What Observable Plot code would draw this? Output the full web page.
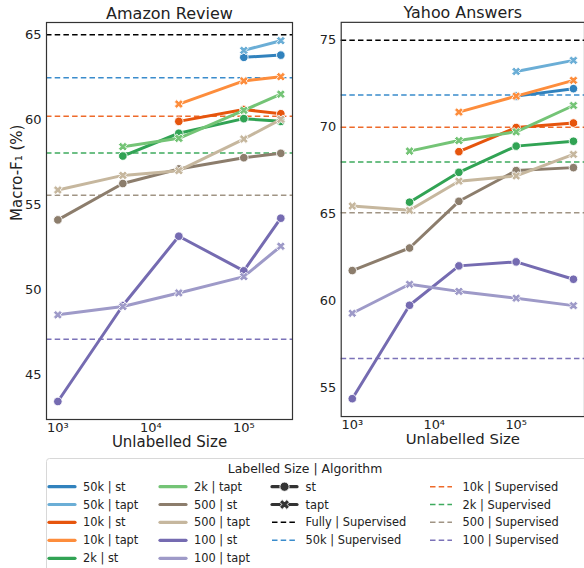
<!DOCTYPE html>
<html><head><meta charset="utf-8">
<script src="https://cdn.jsdelivr.net/npm/d3@7"></script>
<script src="https://cdn.jsdelivr.net/npm/@observablehq/plot@0.6"></script>
<style>
body{margin:0;background:#fff;font-family:"DejaVu Sans",sans-serif;}
#wrap{position:relative;width:584px;height:568px;overflow:hidden;background:#fff;}
#left{position:absolute;left:0;top:0;}
#right{position:absolute;left:300px;top:0;}
#legend{position:absolute;left:0;top:0;}
</style></head><body>
<div id="wrap"><div id="left"></div><div id="right"></div><svg id="legend" width="584" height="568"></svg></div>
<script>
// ---- data ----
const labelled = ["50k", "10k", "2k", "500", "100"];
const supLabels = ["Fully", "50k", "10k", "2k", "500", "100"];
const amazonX = [1000, 5000, 20000, 100000, 250000];
const yahooX = [1000, 5000, 20000, 100000, 500000];

const amazonSt = [
  [null, null, null, 63.67, 63.8],
  [null, null, 59.9, 60.6, 60.35],
  [null, 57.86, 59.2, 60.06, 59.9],
  [54.1, 56.24, 57.1, 57.76, 58.02],
  [43.41, 49.06, 53.14, 51.1, 54.2]
];
const amazonTapt = [
  [null, null, null, 64.08, 64.65],
  [null, null, 60.92, 62.28, 62.53],
  [null, 58.41, 58.9, 60.55, 61.5],
  [55.86, 56.72, 57.0, 58.86, 60.02],
  [48.51, 49.0, 49.8, 50.76, 52.55]
];
const amazonSup = [65.0, 62.47, 60.2, 58.04, 55.55, 47.08];

const yahooSt = [
  [null, null, null, 71.78, 72.21],
  [null, null, 68.58, 69.97, 70.23],
  [null, 65.67, 67.39, 68.9, 69.18],
  [61.73, 63.03, 65.72, 67.49, 67.66],
  [54.35, 59.73, 62.0, 62.23, 61.23]
];
const yahooTapt = [
  [null, null, null, 73.2, 73.84],
  [null, null, 70.86, 71.78, 72.69],
  [null, 68.61, 69.22, 69.72, 71.24],
  [65.45, 65.2, 66.88, 67.18, 68.42],
  [59.27, 60.94, 60.53, 60.14, 59.71]
];
const yahooSup = [75.0, 71.84, 69.98, 67.98, 65.06, 56.67];

const amazonTicks = [45, 50, 55, 60, 65];
const yahooTicks = [55, 60, 65, 70, 75];
const xTicks = [1000, 10000, 100000];

// ---- styles ----
const stColors = ["#3182bd", "#e6550d", "#31a354", "#8c7d6c", "#756bb1"];
const taptColors = ["#6baed6", "#fd8d3c", "#74c476", "#c6b79e", "#9e9ac8"];
const supColors = ["#000000", "#3a8ccc", "#ee6a2a", "#3eaa5e", "#a09484", "#7b72b8"];
const FONT = "DejaVu Sans";

// filled X marker
const XSym = {
  draw(ctx, size) {
    const s = Math.sqrt(size / Math.PI) * 1.15, w = s * 0.36;
    const pts = [[-w,-s],[w,-s],[w,-w],[s,-w],[s,w],[w,w],[w,s],[-w,s],[-w,w],[-s,w],[-s,-w],[-w,-w]]
      .map(([x, y]) => [(x - y) / Math.SQRT2, (x + y) / Math.SQRT2]);
    ctx.moveTo(pts[0][0], pts[0][1]);
    for (let i = 1; i < pts.length; i++) ctx.lineTo(pts[i][0], pts[i][1]);
    ctx.closePath();
  }
};

const sup = n => String(n).split("").map(c => "⁰¹²³⁴⁵⁶⁷⁸⁹"[+c]).join("");

function panel({title, xs, st, tapt, supv, ticks, xDomain, yDomain, width, ml, mr, ylabel}) {
  const marks = [];
  supv.forEach((v, i) => marks.push(Plot.ruleY([v], {stroke: supColors[i], strokeWidth: 1.5, strokeDasharray: "5.5,3.2"})));
  labelled.forEach((lab, i) => {
    [[st[i], stColors[i], "circle"], [tapt[i], taptColors[i], XSym]].forEach(([vals, col, sym]) => {
      const rows = xs.map((x, j) => ({x, y: vals[j]})).filter(d => d.y != null);
      marks.push(Plot.line(rows, {x: "x", y: "y", stroke: col, strokeWidth: 3, strokeLinejoin: "round", strokeLinecap: "round"}));
      marks.push(Plot.dot(rows, {x: "x", y: "y", fill: col, stroke: "white", strokeWidth: 0.9, symbol: sym, r: sym === "circle" ? 4.3 : 4}));
    });
  });
  marks.push(Plot.frame({stroke: "#333", strokeWidth: 1.2}));
  marks.push(Plot.axisX({ticks: xTicks, tickFormat: d => "10" + sup(Math.round(Math.log10(d))), tickSize: 0, tickPadding: 3, fontSize: 13, label: null}));
  marks.push(Plot.axisY({ticks, tickSize: 0, tickPadding: 5, fontSize: 13, label: null}));
  marks.push(Plot.text([title], {frameAnchor: "top", lineAnchor: "middle", dy: -9, fontSize: 16, fill: "#222"}));
  marks.push(Plot.text(["Unlabelled Size"], {frameAnchor: "bottom", lineAnchor: "middle", dy: 23, fontSize: 15, fill: "#222"}));
  if (ylabel) marks.push(Plot.text([ylabel], {frameAnchor: "left", lineAnchor: "middle", dx: -29, rotate: -90, fontSize: 15, fill: "#222"}));
  return Plot.plot({
    width, height: 452, marginLeft: ml, marginRight: mr, marginTop: 22, marginBottom: 33,
    style: {fontFamily: FONT, color: "#222", background: "transparent", overflow: "visible"},
    x: {type: "log", domain: xDomain},
    y: {domain: yDomain},
    marks
  });
}

document.getElementById("left").appendChild(panel({
  title: "Amazon Review", xs: amazonX, st: amazonSt, tapt: amazonTapt, supv: amazonSup,
  ticks: amazonTicks, xDomain: [755, 334000], yDomain: [42.35, 65.72], width: 300, ml: 46, mr: 8,
  ylabel: "Macro-F₁ (%)"
}));
document.getElementById("right").appendChild(panel({
  title: "Yahoo Answers", xs: yahooX, st: yahooSt, tapt: yahooTapt, supv: yahooSup,
  ticks: yahooTicks, xDomain: [733, 682000], yDomain: [53.32, 76.03], width: 286, ml: 41, mr: 0
}));

// ---- legend ----
const lg = d3.select("#legend");
lg.append("rect").attr("x", 46.5).attr("y", 458.5).attr("width", 560).attr("height", 140)
  .attr("rx", 3).attr("fill", "white").attr("stroke", "#d8d8d8");
lg.append("text").attr("x", 305).attr("y", 468).attr("text-anchor", "middle").attr("dominant-baseline", "central")
  .attr("font-family", FONT).attr("font-size", 12.4).attr("fill", "#222").text("Labelled Size | Algorithm");
const rowsY = [486.7, 504.5, 522.3, 540.3, 558.3];
const cols = [{x0: 49, x1: 75, tx: 83}, {x0: 160, x1: 186, tx: 194}, {x0: 272, x1: 297, tx: 305.5}, {x0: 430, x1: 452, tx: 462.5}];
const items = [];
labelled.forEach((lab, i) => {
  items.push({label: lab + " | st", color: stColors[i], kind: "solid"});
  items.push({label: lab + " | tapt", color: taptColors[i], kind: "solid"});
});
items.push({label: "st", color: "#333", kind: "circle"});
items.push({label: "tapt", color: "#333", kind: "x"});
supLabels.forEach((lab, i) => items.push({label: lab + " | Supervised", color: supColors[i], kind: "dash"}));
const pos = [];
for (let c = 0; c < 2; c++) for (let r = 0; r < 5; r++) pos.push([c, r]);
for (let r = 0; r < 4; r++) pos.push([2, r]);
for (let r = 0; r < 4; r++) pos.push([3, r]);
items.forEach((it, k) => {
  const [c, r] = pos[k]; const col = cols[c]; const y = rowsY[r];
  if (it.kind === "dash") {
    lg.append("line").attr("x1", col.x0).attr("x2", col.x1).attr("y1", y).attr("y2", y)
      .attr("stroke", it.color).attr("stroke-width", 1.5).attr("stroke-dasharray", "5.5,3.2");
  } else {
    lg.append("line").attr("x1", col.x0).attr("x2", col.x1).attr("y1", y).attr("y2", y)
      .attr("stroke", it.color).attr("stroke-width", 3.2).attr("stroke-linecap", "round");
    const cx = (col.x0 + col.x1) / 2;
    if (it.kind === "circle") {
      lg.append("circle").attr("cx", cx).attr("cy", y).attr("r", 4.6).attr("fill", it.color).attr("stroke", "white").attr("stroke-width", 0.9);
    } else if (it.kind === "x") {
      const p = d3.path(); XSym.draw(p, Math.PI * 20);
      lg.append("path").attr("transform", `translate(${cx},${y})`).attr("d", p.toString()).attr("fill", it.color).attr("stroke", "white").attr("stroke-width", 0.9);
    }
  }
  lg.append("text").attr("x", col.tx).attr("y", y).attr("dominant-baseline", "central")
    .attr("font-family", FONT).attr("font-size", 11.4).attr("fill", "#222").text(it.label);
});
</script>
</body></html>
